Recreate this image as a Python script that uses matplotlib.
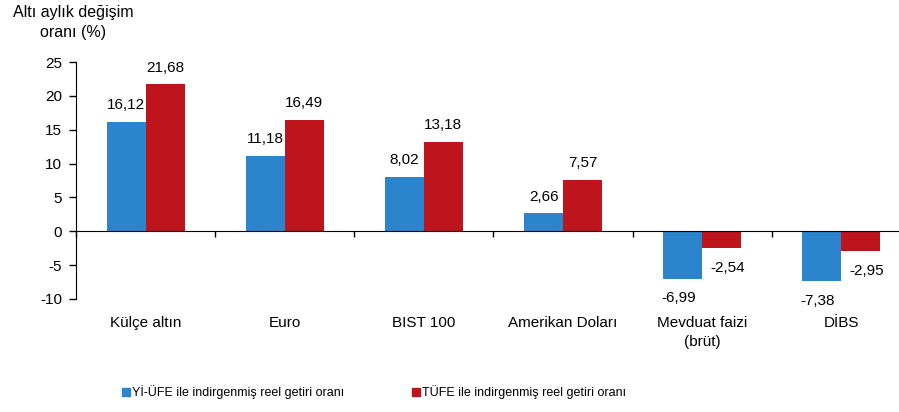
import matplotlib
matplotlib.use("Agg")
import matplotlib.pyplot as plt
import numpy as np
from matplotlib.lines import Line2D
from matplotlib import transforms

plt.rcParams['font.family'] = ['Liberation Sans', 'DejaVu Sans']
plt.rcParams['axes.unicode_minus'] = False

categories = ["Külçe altın", "Euro", "BIST 100", "Amerikan Doları",
              "Mevduat faizi\n(brüt)", "DİBS"]
yi_ufe = [16.12, 11.18, 8.02, 2.66, -6.99, -7.38]
tufe = [21.68, 16.49, 13.18, 7.57, -2.54, -2.95]
series_names = ["Yİ-ÜFE ile indirgenmiş reel getiri oranı",
                "TÜFE ile indirgenmiş reel getiri oranı"]

blue = "#2B84CC"
red = "#BE141C"

W, H = 899, 412
fig = plt.figure(figsize=(W / 100, H / 100), dpi=100)
ax = fig.add_axes([76 / W, 1 - 299 / H, 835 / W, 237 / H])

x = np.arange(len(categories))
bw = 0.28
ax.bar(x - bw / 2, yi_ufe, bw, color=blue)
ax.bar(x + bw / 2, tufe, bw, color=red)

ax.set_xlim(-0.5, len(categories) - 0.5)
ax.set_ylim(-10, 25)
ax.set_yticks(np.arange(-10, 26, 5))
ax.tick_params(axis='y', length=5, width=1, labelsize=11, pad=5)

# x axis at zero, tick marks between categories
ax.spines['top'].set_visible(False)
ax.spines['right'].set_visible(False)
ax.spines['bottom'].set_position(('data', 0))
ax.set_xticks(np.arange(-0.5, len(categories), 1))
ax.set_xticklabels([])
ax.tick_params(axis='x', length=4, width=1, direction='out')

trans = transforms.blended_transform_factory(ax.transData, ax.transAxes)
for i, c in enumerate(categories):
    ax.text(i, -0.07, c, transform=trans, ha='center', va='top',
            fontsize=11, linespacing=1.45)

def label(xpos, v, dx=0):
    txt = f"{v:.2f}".replace(".", ",")
    if v >= 0:
        ax.annotate(txt, (xpos, v), xytext=(dx, 7),
                    textcoords='offset points', ha='center', va='bottom',
                    fontsize=11)
    else:
        ax.annotate(txt, (xpos, v), xytext=(dx, -9),
                    textcoords='offset points', ha='center', va='top',
                    fontsize=11)

for i in range(len(categories)):
    label(x[i] - bw / 2, yi_ufe[i], -3 if yi_ufe[i] < 0 else 0)
    label(x[i] + bw / 2, tufe[i], 4 if tufe[i] < 0 else 0)

fig.text(73 / W, 1 - 5 / H, "Altı aylık değişim\noranı (%)", ha='center',
         va='top', fontsize=11.5, linespacing=1.45)

handles = [Line2D([], [], marker='s', ls='', color=blue, markersize=6),
           Line2D([], [], marker='s', ls='', color=red, markersize=6)]
fig.legend(handles, series_names, loc='center left',
           bbox_to_anchor=(111 / W, 1 - 392 / H), ncol=2, frameon=False,
           fontsize=9, handlelength=0.6, handletextpad=0.2,
           columnspacing=5.4)

fig.savefig("out.png", dpi=100)
